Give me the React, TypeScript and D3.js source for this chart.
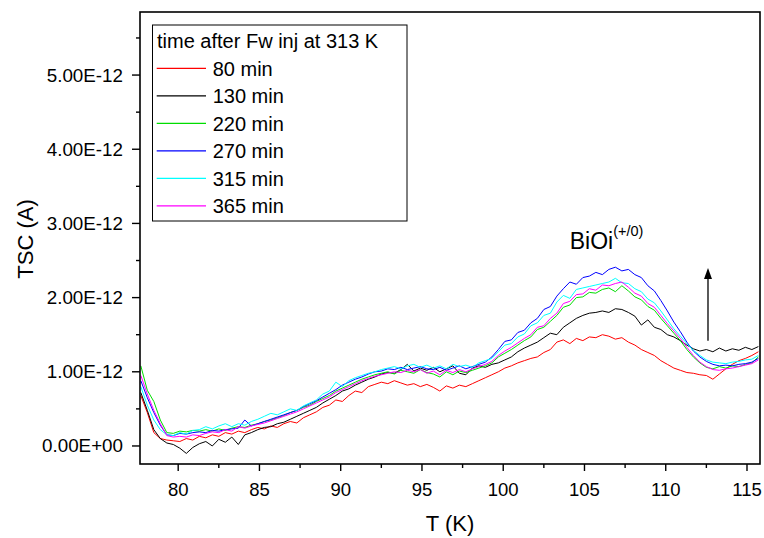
import React from 'react';
import * as d3 from 'd3';

// Temperature sampling grid (K)
const temperatures: number[] = d3.range(0, 96).map((i) => +(77.7 + 0.4 * i).toFixed(1));

// TSC values in units of 1e-12 A
const red80 = [
  0.68, 0.45, 0.18, 0.10, 0.08,
  0.07, 0.06, 0.10, 0.08, 0.13,
  0.11, 0.15, 0.13, 0.18, 0.16,
  0.20, 0.18, 0.22, 0.25, 0.23,
  0.27, 0.25, 0.30, 0.33, 0.31,
  0.38, 0.42, 0.46, 0.52, 0.55,
  0.62, 0.60, 0.68, 0.74, 0.72,
  0.80, 0.83, 0.86, 0.84, 0.88,
  0.85, 0.82, 0.84, 0.80, 0.83,
  0.79, 0.74, 0.81, 0.78, 0.82,
  0.80, 0.84, 0.88, 0.92, 0.96,
  1.00, 1.05, 1.08, 1.12, 1.15,
  1.18, 1.20, 1.26, 1.30, 1.40,
  1.43, 1.38, 1.45, 1.42, 1.47,
  1.46, 1.50, 1.48, 1.44, 1.46,
  1.40, 1.36, 1.30, 1.26, 1.22,
  1.15, 1.10, 1.05, 1.02, 0.99,
  0.98, 0.96, 0.95, 0.90, 0.97,
  1.04, 1.10, 1.15, 1.18, 1.22,
  1.27,
];
const black130 = [
  0.72, 0.48, 0.22, 0.10, 0.04,
  0.02, -0.03, -0.10, -0.02, 0.03,
  0.06, 0.00, 0.09, 0.05, 0.12,
  0.02, 0.15, 0.18, 0.22, 0.25,
  0.26, 0.30, 0.32, 0.36, 0.40,
  0.44, 0.48, 0.52, 0.58, 0.63,
  0.68, 0.74, 0.77, 0.82, 0.86,
  0.90, 0.93, 0.97, 0.99, 0.98,
  1.03, 1.10, 1.01, 1.05, 1.02,
  1.06, 1.00, 1.04, 1.08, 0.98,
  0.96, 1.05, 1.08, 1.06, 1.10,
  1.12, 1.16, 1.20, 1.27, 1.32,
  1.36, 1.40, 1.46, 1.52, 1.50,
  1.60, 1.66, 1.72, 1.76, 1.79,
  1.80, 1.82, 1.80, 1.85, 1.84,
  1.80, 1.75, 1.63, 1.70, 1.60,
  1.57, 1.50, 1.47, 1.42, 1.36,
  1.31, 1.28, 1.30, 1.27, 1.32,
  1.28, 1.31, 1.29, 1.33, 1.30,
  1.34,
];
const green220 = [
  1.08, 0.75, 0.60, 0.35, 0.18,
  0.17, 0.20, 0.19, 0.21, 0.20,
  0.22, 0.20, 0.23, 0.21, 0.24,
  0.26, 0.25, 0.28, 0.30, 0.33,
  0.35, 0.38, 0.41, 0.45, 0.48,
  0.52, 0.55, 0.60, 0.64, 0.68,
  0.74, 0.78, 0.82, 0.86, 0.90,
  0.93, 0.96, 0.98, 1.00, 0.97,
  1.02, 1.00, 0.98, 1.03, 0.99,
  0.97, 0.93, 1.00, 0.96, 1.01,
  0.99, 1.02, 1.05, 1.08, 1.12,
  1.20, 1.25, 1.30, 1.36, 1.42,
  1.47, 1.57, 1.60, 1.68, 1.76,
  1.87, 1.90, 2.00, 2.01, 2.07,
  2.06, 2.11, 2.13, 2.08, 2.16,
  2.09, 2.01, 1.97, 1.88, 1.83,
  1.72, 1.62, 1.52, 1.42, 1.30,
  1.20, 1.12, 1.06, 1.04, 1.07,
  1.05, 1.08, 1.07, 1.10, 1.12,
  1.20,
];
const blue270 = [
  0.88, 0.65, 0.45, 0.28, 0.15,
  0.14, 0.17, 0.16, 0.18, 0.19,
  0.18, 0.21, 0.20, 0.22, 0.23,
  0.24, 0.35, 0.27, 0.30, 0.33,
  0.36, 0.39, 0.42, 0.45, 0.48,
  0.53, 0.57, 0.61, 0.66, 0.71,
  0.76, 0.82, 0.86, 0.90, 0.93,
  0.97, 1.00, 1.01, 1.04, 1.03,
  1.06, 1.03, 1.05, 1.07, 1.04,
  1.03, 1.06, 1.02, 1.05, 1.08,
  1.04, 1.07, 1.10, 1.13, 1.20,
  1.30, 1.41, 1.43, 1.53, 1.56,
  1.66, 1.72, 1.84, 1.88, 2.02,
  2.12, 2.21, 2.18, 2.27, 2.29,
  2.34, 2.31, 2.38, 2.41, 2.36,
  2.38, 2.31, 2.27, 2.16, 2.09,
  1.96, 1.82, 1.67, 1.54, 1.40,
  1.28, 1.20, 1.14, 1.10, 1.08,
  1.09, 1.08, 1.10, 1.11, 1.13,
  1.18,
];
const cyan315 = [
  0.80, 0.55, 0.35, 0.22, 0.15,
  0.14, 0.18, 0.16, 0.21, 0.22,
  0.26, 0.23, 0.27, 0.30, 0.26,
  0.30, 0.28, 0.33, 0.36, 0.40,
  0.44, 0.42, 0.46, 0.50, 0.48,
  0.54, 0.58, 0.62, 0.70, 0.74,
  0.86, 0.80, 0.88, 0.92, 0.95,
  0.98, 1.00, 1.03, 1.05, 1.07,
  1.04, 1.08, 1.10, 1.06, 1.09,
  1.05, 1.08, 1.04, 1.10, 1.07,
  1.09, 1.06, 1.12, 1.15, 1.18,
  1.27, 1.36, 1.38, 1.47, 1.51,
  1.62, 1.66, 1.76, 1.79, 1.94,
  2.03, 1.99, 2.11, 2.13, 2.15,
  2.17, 2.19, 2.21, 2.26, 2.20,
  2.19, 2.12, 2.08, 1.98, 1.93,
  1.82, 1.70, 1.58, 1.48, 1.38,
  1.29, 1.22, 1.16, 1.13, 1.12,
  1.11, 1.13, 1.14, 1.16, 1.17,
  1.22,
];
const magenta365 = [
  0.95, 0.70, 0.48, 0.30, 0.14,
  0.12, 0.13, 0.12, 0.15, 0.14,
  0.17, 0.19, 0.18, 0.22, 0.20,
  0.26, 0.24, 0.27, 0.29, 0.31,
  0.34, 0.37, 0.40, 0.43, 0.46,
  0.50, 0.54, 0.58, 0.62, 0.66,
  0.72, 0.76, 0.80, 0.84, 0.88,
  0.91, 0.94, 0.96, 0.98, 1.00,
  0.99, 1.02, 1.00, 1.03, 0.98,
  1.01, 0.96, 1.02, 0.99, 1.03,
  1.00, 1.04, 1.07, 1.10, 1.14,
  1.22, 1.28, 1.33, 1.39, 1.45,
  1.50, 1.60, 1.62, 1.72, 1.79,
  1.92, 1.95, 2.04, 2.05, 2.12,
  2.10, 2.17, 2.16, 2.19, 2.21,
  2.14, 2.06, 2.02, 1.92, 1.87,
  1.76, 1.65, 1.55, 1.45, 1.33,
  1.22, 1.13, 1.07, 1.03, 1.02,
  1.04, 1.05, 1.07, 1.09, 1.11,
  1.16,
];

const seriesNames = ['80 min', '130 min', '220 min', '270 min', '315 min', '365 min'];
const seriesColors = ['#ff0000', '#000000', '#00dd00', '#0000ff', '#00ffff', '#ff00ff'];
const seriesValues = [red80, black130, green220, blue270, cyan315, magenta365];

const xMajorTicks = [80, 85, 90, 95, 100, 105, 110, 115];
const xMinorTicks = [82.5, 87.5, 92.5, 97.5, 102.5, 107.5, 112.5];
const yMajorTicks = [0, 1, 2, 3, 4, 5];
const yTickLabels = ['0.00E+00', '1.00E-12', '2.00E-12', '3.00E-12', '4.00E-12', '5.00E-12'];
const yMinorTicks = [0.5, 1.5, 2.5, 3.5, 4.5, 5.5];

const legendTitle = 'time after Fw inj at 313 K';
const annotationText = 'BiOi';
const annotationSup = '(+/0)';
const annotationPos = { t: 104.09, v: 2.66 };
const arrowSpec = { t: 112.6, from: 1.42, to: 2.40 };

const W = 764;
const H = 538;
const M = { left: 140, right: 4, top: 12, bottom: 74 };
const FONT = 'Liberation Sans, Arial, Helvetica, sans-serif';

export default function App() {
  const x = d3.scaleLinear().domain([77.65, 115.8]).range([M.left, W - M.right]);
  const y = d3.scaleLinear().domain([-0.243, 5.85]).range([H - M.bottom, M.top]);
  const x0 = M.left, x1 = W - M.right, y0 = H - M.bottom, y1 = M.top;

  const line = d3
    .line<number>()
    .x((_, i) => x(temperatures[i]))
    .y((d) => y(d));

  const legendX = 152.5, legendY = 25, legendW = 254.5, legendH = 196;
  const rowY0 = 68.3, rowStep = 27.5;

  return (
    <svg width={W} height={H} style={{ display: 'block', position: 'absolute', left: 0, top: 0 }} fontFamily={FONT}>
      <defs>
        <clipPath id="plotClip">
          <rect x={x0} y={y1} width={x1 - x0} height={y0 - y1} />
        </clipPath>
      </defs>
      <rect x={0} y={0} width={W} height={H} fill="#fff" />

      <g clipPath="url(#plotClip)">
        {seriesValues.map((vals, k) => (
          <path key={k} d={line(vals) || ''} fill="none" stroke={seriesColors[k]} strokeWidth={1} strokeLinejoin="round" />
        ))}
      </g>

      {/* frame */}
      <rect x={x0} y={y1} width={x1 - x0} height={y0 - y1} fill="none" stroke="#000" strokeWidth={1.6} />

      {/* x ticks */}
      {xMajorTicks.map((t) => (
        <g key={'xm' + t}>
          <line x1={x(t)} x2={x(t)} y1={y0} y2={y0 + 7} stroke="#000" strokeWidth={1.4} />
          <text x={x(t)} y={y0 + 32} textAnchor="middle" fontSize={18.5}>{t}</text>
        </g>
      ))}
      {xMinorTicks.map((t) => (
        <line key={'xn' + t} x1={x(t)} x2={x(t)} y1={y0} y2={y0 + 4} stroke="#000" strokeWidth={1.4} />
      ))}

      {/* y ticks */}
      {yMajorTicks.map((v, i) => (
        <g key={'ym' + v}>
          <line x1={x0 - 8} x2={x0} y1={y(v)} y2={y(v)} stroke="#000" strokeWidth={1.4} />
          <text x={x0 - 17} y={y(v) + 6.5} textAnchor="end" fontSize={18.8}>{yTickLabels[i]}</text>
        </g>
      ))}
      {yMinorTicks.map((v) => (
        <line key={'yn' + v} x1={x0 - 4} x2={x0} y1={y(v)} y2={y(v)} stroke="#000" strokeWidth={1.4} />
      ))}

      {/* axis titles */}
      <text x={(x0 + x1) / 2 + 0} y={531} textAnchor="middle" fontSize={22}>T (K)</text>
      <text transform={`translate(33, ${(y0 + y1) / 2 + 1}) rotate(-90)`} textAnchor="middle" fontSize={22}>TSC (A)</text>

      {/* legend */}
      <rect x={legendX} y={legendY} width={legendW} height={legendH} fill="#fff" stroke="#000" strokeWidth={1} />
      <text x={157} y={48.3} fontSize={20}>{legendTitle}</text>
      {seriesNames.map((name, k) => (
        <g key={name}>
          <line x1={156.7} x2={206} y1={rowY0 + k * rowStep} y2={rowY0 + k * rowStep} stroke={seriesColors[k]} strokeWidth={1.2} />
          <text x={212.7} y={rowY0 + k * rowStep + 7.5} fontSize={20}>{name}</text>
        </g>
      ))}

      {/* annotation */}
      <text x={x(annotationPos.t)} y={y(annotationPos.v)} fontSize={23}>
        {annotationText}
        <tspan fontSize={14.5} dy={-13}>{annotationSup}</tspan>
      </text>

      {/* arrow */}
      <line x1={x(arrowSpec.t)} x2={x(arrowSpec.t)} y1={y(arrowSpec.from)} y2={y(arrowSpec.to) + 9} stroke="#000" strokeWidth={1.3} />
      <path
        d={`M${x(arrowSpec.t)},${y(arrowSpec.to)} L${x(arrowSpec.t) - 4},${y(arrowSpec.to) + 11} L${x(arrowSpec.t) + 4},${y(arrowSpec.to) + 11} Z`}
        fill="#000"
      />
    </svg>
  );
}
